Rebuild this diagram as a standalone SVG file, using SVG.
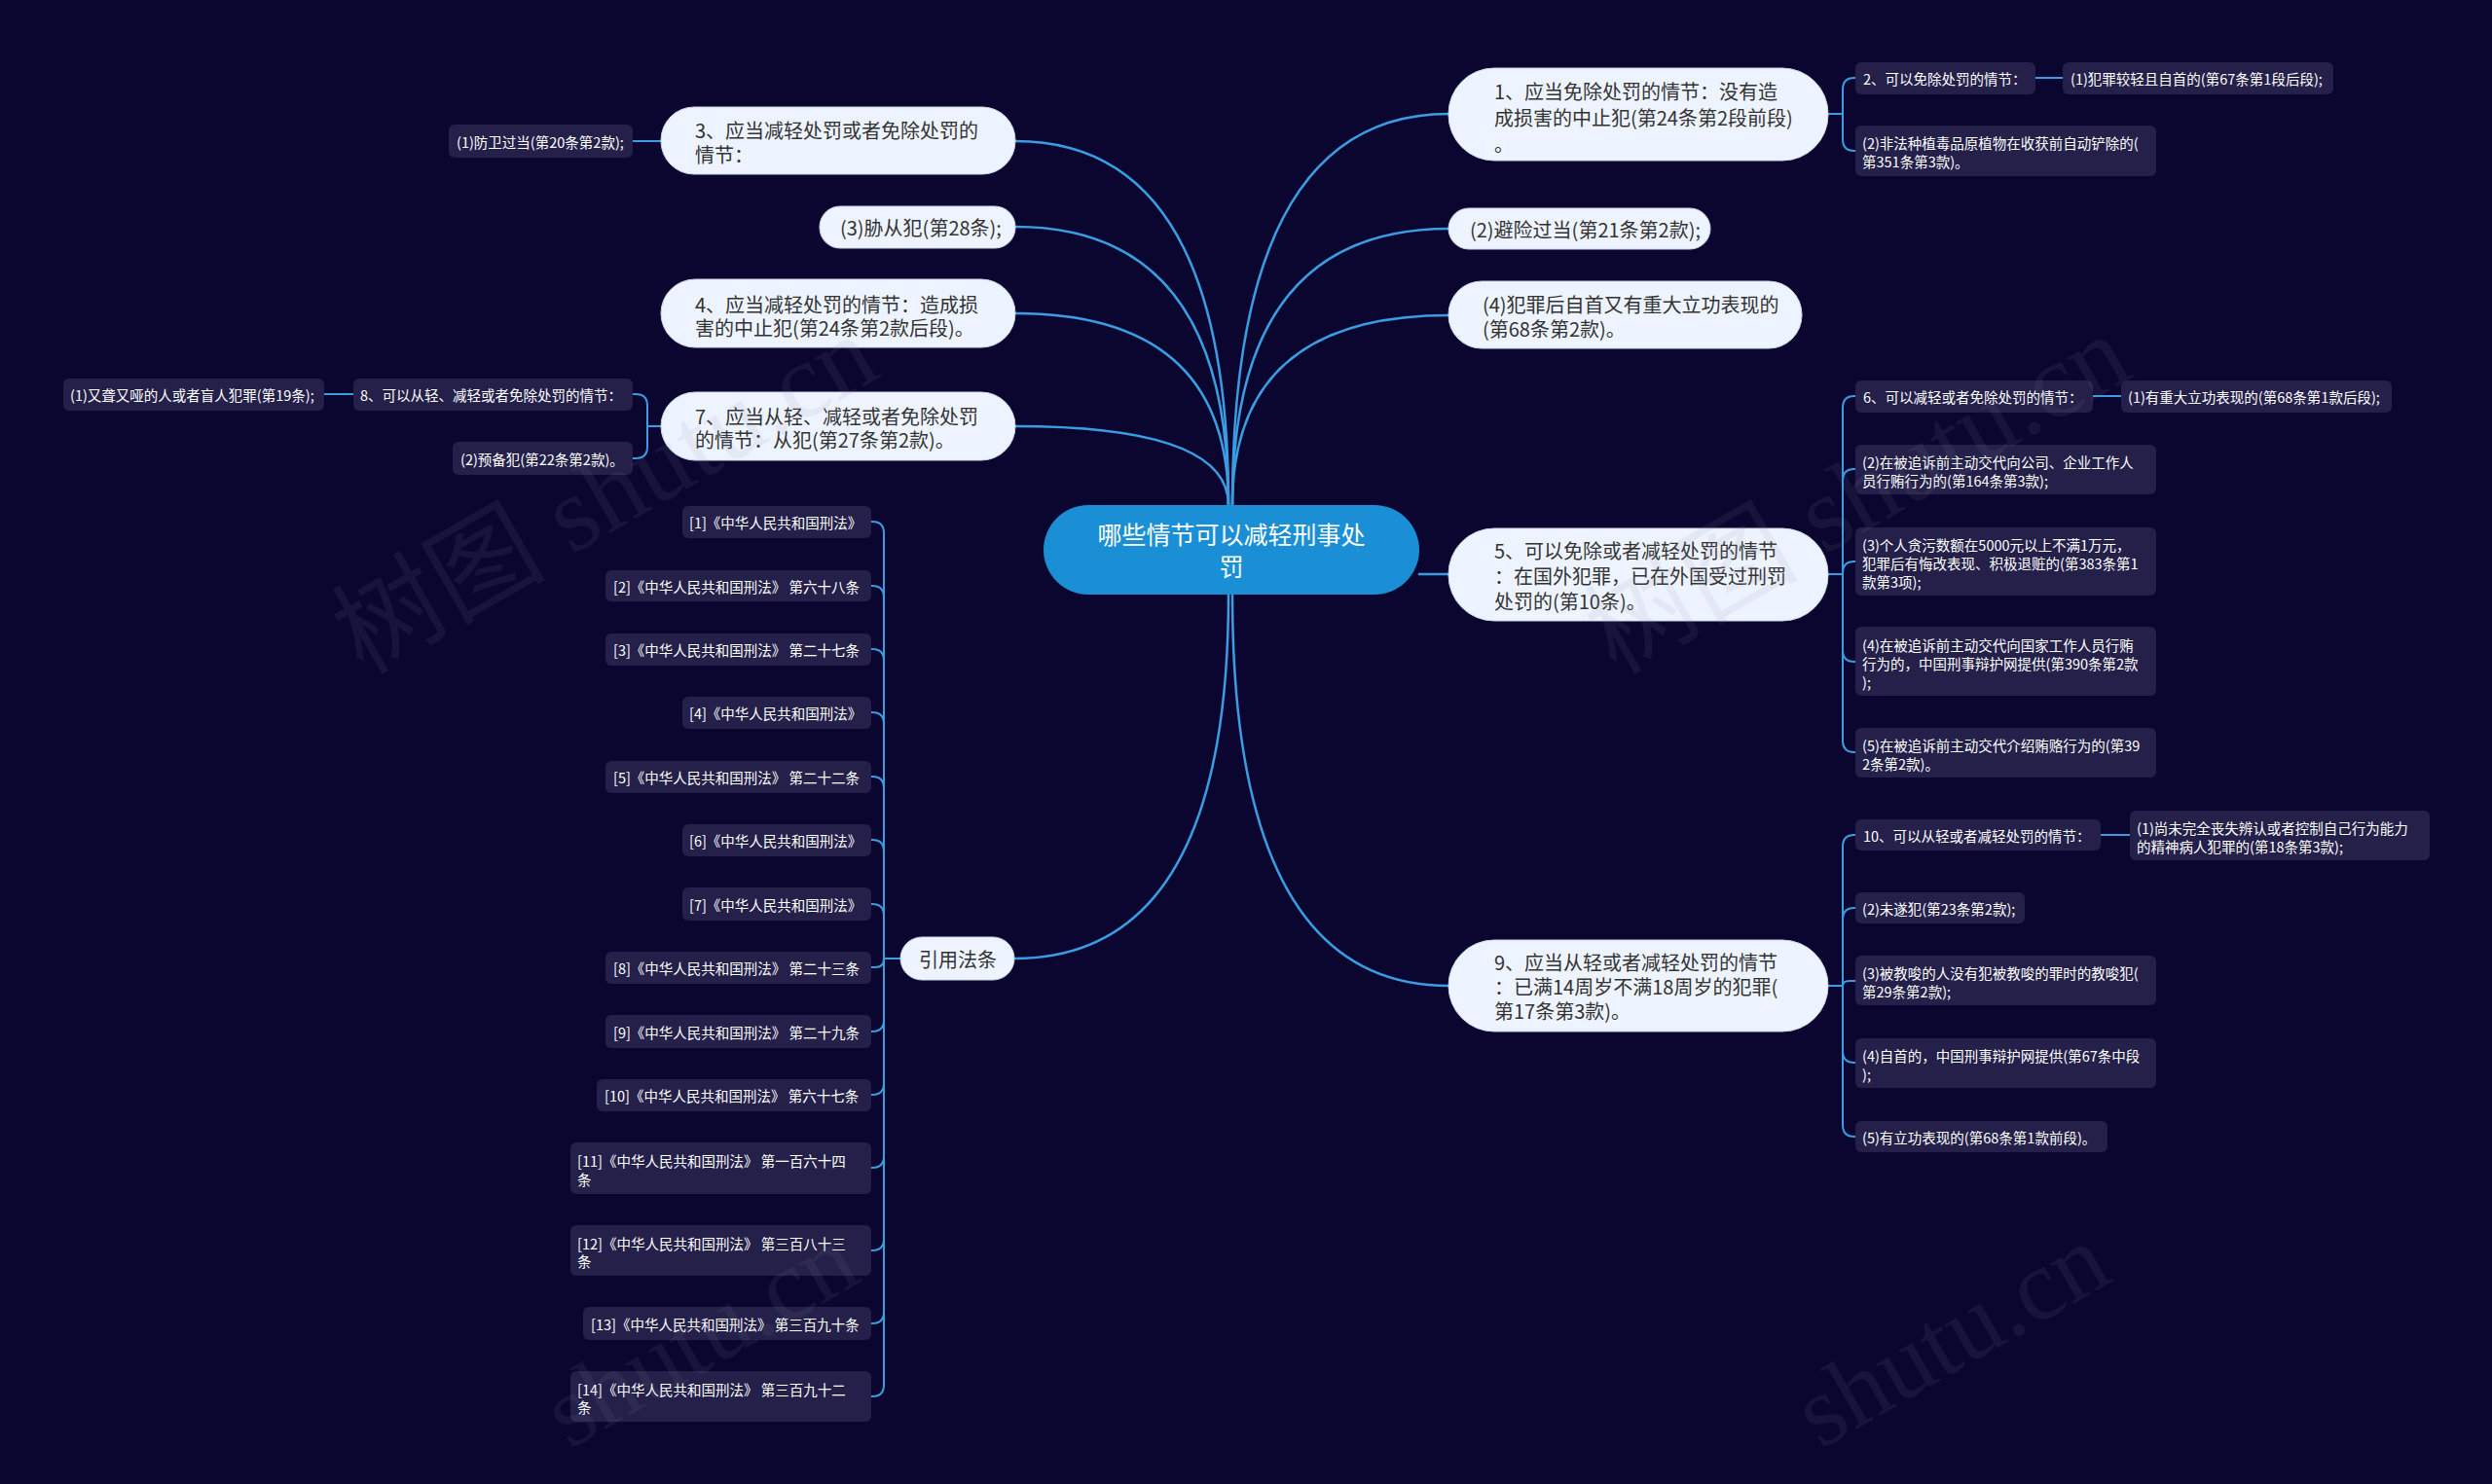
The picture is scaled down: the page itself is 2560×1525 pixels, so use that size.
<svg xmlns="http://www.w3.org/2000/svg" width="2560" height="1525" viewBox="0 0 2560 1525">
<defs>
<style>
text{font-family:"Noto Sans CJK SC","Noto Sans",sans-serif;dominant-baseline:central}
.bg{fill:#0a0630}
.root rect{fill:#1b8fd6}
.root text{fill:#ffffff;font-size:25px;text-anchor:middle}
.n1 rect{fill:#eef4ff;stroke:#cdd6e8;stroke-width:1}
.n1 text{fill:#333333;font-size:20px}
.n2 rect{fill:#24204a}
.n2 text{fill:#ffffff;font-size:14.5px}
.links path{fill:none;stroke:#3a9de2;stroke-width:2.5;stroke-linecap:round}
.links .br{stroke-width:2}
.wm{fill:#8a8aa0;opacity:0.1;font-family:"Liberation Serif","Noto Sans CJK SC",serif;font-size:110px;text-anchor:middle;dominant-baseline:auto}
.wm2{text-anchor:start;font-size:104px}
</style>
</defs>
<rect class="bg" x="0" y="0" width="2560" height="1525"/>

<g id="connectors" class="links">
<path d="M1266 519 Q1266 117 1488 117"/>
<path d="M1266 519 Q1266 235 1488 235"/>
<path d="M1266 519 Q1266 324 1488 324"/>
<path d="M1262 519 Q1262 145 1043 145"/>
<path d="M1262 519 Q1262 233 1043 233"/>
<path d="M1262 519 Q1262 322 1043 322"/>
<path d="M1262 519 Q1262 438 1043 438"/>
<path d="M1262 611 Q1262 985 1042 985"/>
<path d="M1266 611 Q1266 1013 1488 1013"/>
<path d="M1458 590 H1488"/>
<path class="br" d="M1878 117 H1893 V92 Q1893 80 1905 80 H1906"/>
<path class="br" d="M1878 117 H1893 V143 Q1893 155 1905 155 H1906"/>
<path class="br" d="M2091 80 H2119"/>
<path class="br" d="M1878 590 H1893 V419 Q1893 407 1905 407 H1906"/>
<path class="br" d="M1878 590 H1893 V494 Q1893 482 1905 482 H1906"/>
<path class="br" d="M1878 590 H1893 V589 Q1893 577 1905 577 H1906"/>
<path class="br" d="M1878 590 H1893 V668 Q1893 680 1905 680 H1906"/>
<path class="br" d="M1878 590 H1893 V761 Q1893 773 1905 773 H1906"/>
<path class="br" d="M2150 407 H2179"/>
<path class="br" d="M1878 1013 H1893 V870 Q1893 858 1905 858 H1906"/>
<path class="br" d="M1878 1013 H1893 V945 Q1893 933 1905 933 H1906"/>
<path class="br" d="M1878 1013 H1893 Q1893 1008 1900 1008 H1906"/>
<path class="br" d="M1878 1013 H1893 V1080 Q1893 1092 1905 1092 H1906"/>
<path class="br" d="M1878 1013 H1893 V1156 Q1893 1168 1905 1168 H1906"/>
<path class="br" d="M2158 858 H2188"/>
<path class="br" d="M679 145 H650"/>
<path class="br" d="M679 438 H665 V417 Q665 405 653 405 H650"/>
<path class="br" d="M679 438 H665 V459 Q665 471 653 471 H650"/>
<path class="br" d="M363 405 H333"/>
<path class="br" d="M925 985 H908 V548 Q908 536 896 536 H895"/>
<path class="br" d="M925 985 H908 V614 Q908 602 896 602 H895"/>
<path class="br" d="M925 985 H908 V679 Q908 667 896 667 H895"/>
<path class="br" d="M925 985 H908 V744 Q908 732 896 732 H895"/>
<path class="br" d="M925 985 H908 V810 Q908 798 896 798 H895"/>
<path class="br" d="M925 985 H908 V875 Q908 863 896 863 H895"/>
<path class="br" d="M925 985 H908 V941 Q908 929 896 929 H895"/>
<path class="br" d="M925 985 H908 Q908 994 899 994 H895"/>
<path class="br" d="M925 985 H908 V1048 Q908 1060 896 1060 H895"/>
<path class="br" d="M925 985 H908 V1113 Q908 1125 896 1125 H895"/>
<path class="br" d="M925 985 H908 V1188 Q908 1200 896 1200 H895"/>
<path class="br" d="M925 985 H908 V1273 Q908 1285 896 1285 H895"/>
<path class="br" d="M925 985 H908 V1348 Q908 1360 896 1360 H895"/>
<path class="br" d="M925 985 H908 V1423 Q908 1435 896 1435 H895"/>
</g>

<g id="root" class="root">
<rect x="1072" y="519" width="386" height="92" rx="46"/>
<text x="1265" y="548">哪些情节可以减轻刑事处</text>
<text x="1265" y="581">罚</text>
</g>

<g id="n-r1" class="n1">
<rect x="1488" y="70" width="390" height="95" rx="47"/>
<text x="1535" y="93">1、应当免除处罚的情节：没有造</text>
<text x="1535" y="120">成损害的中止犯(第24条第2段前段)</text>
<text x="1535" y="147">。</text>
</g>
<g id="n-r2" class="n1">
<rect x="1488" y="214" width="269" height="42" rx="21"/>
<text x="1510" y="235">(2)避险过当(第21条第2款);</text>
</g>
<g id="n-r3" class="n1">
<rect x="1488" y="289" width="363" height="69" rx="34"/>
<text x="1523" y="312">(4)犯罪后自首又有重大立功表现的</text>
<text x="1523" y="337">(第68条第2款)。</text>
</g>
<g id="n-r4" class="n1">
<rect x="1488" y="543" width="390" height="95" rx="47"/>
<text x="1535" y="565">5、可以免除或者减轻处罚的情节</text>
<text x="1535" y="591">：在国外犯罪，已在外国受过刑罚</text>
<text x="1535" y="617">处罚的(第10条)。</text>
</g>
<g id="n-r5" class="n1">
<rect x="1488" y="966" width="390" height="94" rx="47"/>
<text x="1535" y="988">9、应当从轻或者减轻处罚的情节</text>
<text x="1535" y="1013">：已满14周岁不满18周岁的犯罪(</text>
<text x="1535" y="1038">第17条第3款)。</text>
</g>

<g id="n-l1" class="n1">
<rect x="679" y="110" width="364" height="69" rx="34"/>
<text x="714" y="133">3、应当减轻处罚或者免除处罚的</text>
<text x="714" y="158">情节：</text>
</g>
<g id="n-l2" class="n1">
<rect x="842" y="212" width="201" height="43" rx="21"/>
<text x="863" y="233">(3)胁从犯(第28条);</text>
</g>
<g id="n-l3" class="n1">
<rect x="679" y="287" width="364" height="70" rx="35"/>
<text x="714" y="312">4、应当减轻处罚的情节：造成损</text>
<text x="714" y="336">害的中止犯(第24条第2款后段)。</text>
</g>
<g id="n-l4" class="n1">
<rect x="679" y="403" width="364" height="70" rx="35"/>
<text x="714" y="427">7、应当从轻、减轻或者免除处罚</text>
<text x="714" y="451">的情节：从犯(第27条第2款)。</text>
</g>
<g id="n-ref" class="n1">
<rect x="925" y="963" width="117" height="44" rx="22"/>
<text x="984" y="985" style="text-anchor:middle">引用法条</text>
</g>

<g id="s-a" class="n2"><rect x="1906" y="64" width="185" height="33" rx="6"/><text x="1914" y="80">2、可以免除处罚的情节：</text></g>
<g id="s-b" class="n2"><rect x="2119" y="64" width="278" height="33" rx="6"/><text x="2127" y="80">(1)犯罪较轻且自首的(第67条第1段后段);</text></g>
<g id="s-c" class="n2"><rect x="1906" y="129" width="309" height="52" rx="6"/><text x="1913" y="146">(2)非法种植毒品原植物在收获前自动铲除的(</text><text x="1913" y="165">第351条第3款)。</text></g>

<g id="s-d" class="n2"><rect x="1906" y="391" width="244" height="33" rx="6"/><text x="1914" y="407">6、可以减轻或者免除处罚的情节：</text></g>
<g id="s-e" class="n2"><rect x="2179" y="391" width="278" height="33" rx="6"/><text x="2186" y="407">(1)有重大立功表现的(第68条第1款后段);</text></g>
<g id="s-f" class="n2"><rect x="1906" y="457" width="309" height="51" rx="6"/><text x="1913" y="474">(2)在被追诉前主动交代向公司、企业工作人</text><text x="1913" y="493">员行贿行为的(第164条第3款);</text></g>
<g id="s-g" class="n2"><rect x="1906" y="542" width="309" height="70" rx="6"/><text x="1913" y="559">(3)个人贪污数额在5000元以上不满1万元，</text><text x="1913" y="578">犯罪后有悔改表现、积极退赃的(第383条第1</text><text x="1913" y="597">款第3项);</text></g>
<g id="s-h" class="n2"><rect x="1906" y="644" width="309" height="71" rx="6"/><text x="1913" y="662">(4)在被追诉前主动交代向国家工作人员行贿</text><text x="1913" y="681">行为的，中国刑事辩护网提供(第390条第2款</text><text x="1913" y="700">);</text></g>
<g id="s-i" class="n2"><rect x="1906" y="748" width="309" height="51" rx="6"/><text x="1913" y="765">(5)在被追诉前主动交代介绍贿赂行为的(第39</text><text x="1913" y="784">2条第2款)。</text></g>

<g id="s-j" class="n2"><rect x="1906" y="842" width="252" height="32" rx="6"/><text x="1914" y="858">10、可以从轻或者减轻处罚的情节：</text></g>
<g id="s-k" class="n2"><rect x="2188" y="833" width="308" height="51" rx="6"/><text x="2195" y="850">(1)尚未完全丧失辨认或者控制自己行为能力</text><text x="2195" y="869">的精神病人犯罪的(第18条第3款);</text></g>
<g id="s-l" class="n2"><rect x="1906" y="917" width="174" height="32" rx="6"/><text x="1913" y="933">(2)未遂犯(第23条第2款);</text></g>
<g id="s-m" class="n2"><rect x="1906" y="982" width="309" height="51" rx="6"/><text x="1913" y="999">(3)被教唆的人没有犯被教唆的罪时的教唆犯(</text><text x="1913" y="1018">第29条第2款);</text></g>
<g id="s-n" class="n2"><rect x="1906" y="1067" width="309" height="51" rx="6"/><text x="1913" y="1084">(4)自首的，中国刑事辩护网提供(第67条中段</text><text x="1913" y="1103">);</text></g>
<g id="s-o" class="n2"><rect x="1906" y="1152" width="259" height="32" rx="6"/><text x="1913" y="1168">(5)有立功表现的(第68条第1款前段)。</text></g>

<g id="s-p" class="n2"><rect x="461" y="128" width="189" height="34" rx="6"/><text x="469" y="145">(1)防卫过当(第20条第2款);</text></g>
<g id="s-q" class="n2"><rect x="363" y="389" width="287" height="33" rx="6"/><text x="370" y="405">8、可以从轻、减轻或者免除处罚的情节：</text></g>
<g id="s-r" class="n2"><rect x="65" y="389" width="268" height="33" rx="6"/><text x="72" y="405">(1)又聋又哑的人或者盲人犯罪(第19条);</text></g>
<g id="s-s" class="n2"><rect x="465" y="454" width="185" height="34" rx="6"/><text x="473" y="471">(2)预备犯(第22条第2款)。</text></g>

<g id="ref-1" class="n2"><rect x="701" y="520" width="194" height="33" rx="6"/><text x="708" y="536">[1]《中华人民共和国刑法》</text></g>
<g id="ref-2" class="n2"><rect x="622" y="586" width="273" height="32" rx="6"/><text x="630" y="602">[2]《中华人民共和国刑法》 第六十八条</text></g>
<g id="ref-3" class="n2"><rect x="622" y="651" width="273" height="33" rx="6"/><text x="630" y="667">[3]《中华人民共和国刑法》 第二十七条</text></g>
<g id="ref-4" class="n2"><rect x="701" y="716" width="194" height="33" rx="6"/><text x="708" y="732">[4]《中华人民共和国刑法》</text></g>
<g id="ref-5" class="n2"><rect x="622" y="782" width="273" height="33" rx="6"/><text x="630" y="798">[5]《中华人民共和国刑法》 第二十二条</text></g>
<g id="ref-6" class="n2"><rect x="701" y="847" width="194" height="33" rx="6"/><text x="708" y="863">[6]《中华人民共和国刑法》</text></g>
<g id="ref-7" class="n2"><rect x="701" y="912" width="194" height="34" rx="6"/><text x="708" y="929">[7]《中华人民共和国刑法》</text></g>
<g id="ref-8" class="n2"><rect x="622" y="978" width="273" height="33" rx="6"/><text x="630" y="994">[8]《中华人民共和国刑法》 第二十三条</text></g>
<g id="ref-9" class="n2"><rect x="622" y="1043" width="273" height="34" rx="6"/><text x="630" y="1060">[9]《中华人民共和国刑法》 第二十九条</text></g>
<g id="ref-10" class="n2"><rect x="613" y="1109" width="282" height="33" rx="6"/><text x="621" y="1125">[10]《中华人民共和国刑法》 第六十七条</text></g>
<g id="ref-11" class="n2"><rect x="586" y="1174" width="309" height="53" rx="6"/><text x="593" y="1192">[11]《中华人民共和国刑法》 第一百六十四</text><text x="593" y="1211">条</text></g>
<g id="ref-12" class="n2"><rect x="586" y="1259" width="309" height="52" rx="6"/><text x="593" y="1277">[12]《中华人民共和国刑法》 第三百八十三</text><text x="593" y="1295">条</text></g>
<g id="ref-13" class="n2"><rect x="599" y="1343" width="296" height="34" rx="6"/><text x="607" y="1360">[13]《中华人民共和国刑法》 第三百九十条</text></g>
<g id="ref-14" class="n2"><rect x="586" y="1409" width="309" height="52" rx="6"/><text x="593" y="1427">[14]《中华人民共和国刑法》 第三百九十二</text><text x="593" y="1445">条</text></g>

<g id="watermark">
<text class="wm" transform="translate(640 540) rotate(-30)">树图 shutu.cn</text>
<text class="wm" transform="translate(1927 540) rotate(-30)">树图 shutu.cn</text>
<text class="wm wm2" transform="translate(585 1490) rotate(-30)">shutu.cn</text>
<text class="wm wm2" transform="translate(1870 1490) rotate(-30)">shutu.cn</text>
</g>
</svg>
